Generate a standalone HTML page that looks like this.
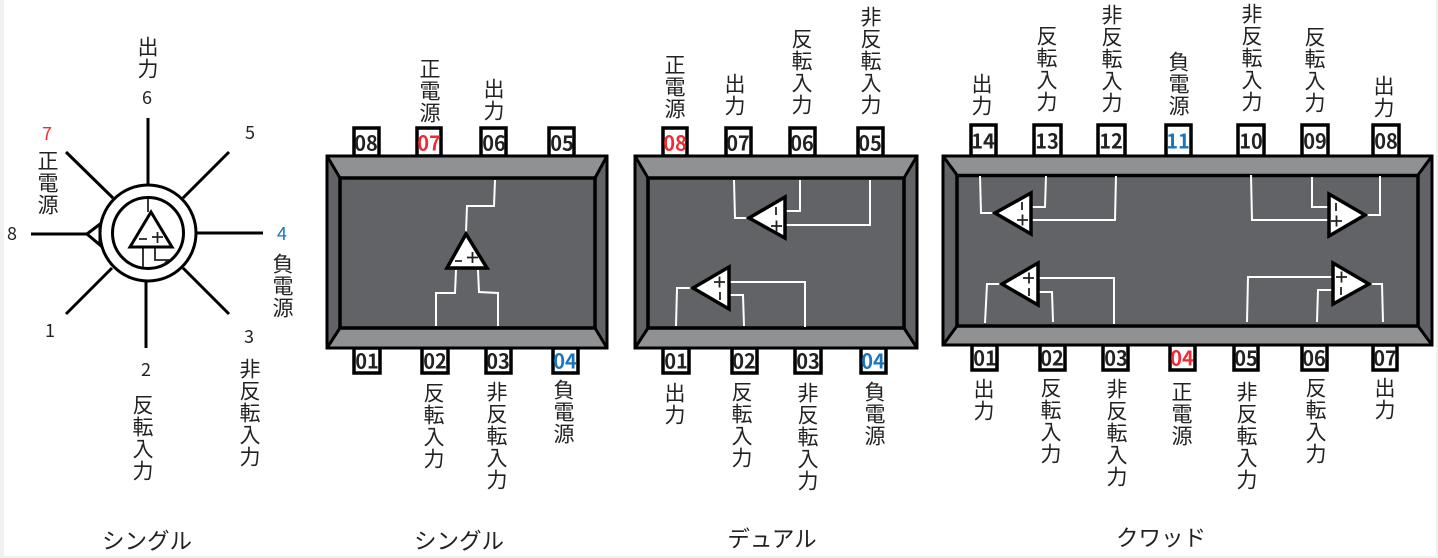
<!DOCTYPE html>
<html lang="ja"><head><meta charset="utf-8"><style>
html,body{margin:0;padding:0;background:#fff}
svg{display:block}
text{font-family:"Liberation Sans","Noto Sans CJK JP",sans-serif;fill:#222}
.v{font-family:"Noto Sans CJK JP",sans-serif;font-size:21px;letter-spacing:1px;writing-mode:vertical-rl;text-orientation:upright}
.n{font-family:"Noto Sans CJK JP",sans-serif;font-size:18px;text-anchor:middle;dominant-baseline:central}
.c{font-family:"Noto Sans CJK JP",sans-serif;font-size:22.500px;text-anchor:middle}
.p{font-family:"Noto Sans CJK JP",sans-serif;font-size:20px;font-weight:700;text-anchor:middle;dominant-baseline:central}
.pin{fill:#fff;stroke:#000;stroke-width:3.500}
.w{fill:none;stroke:#fff;stroke-width:2}
.t{fill:#fff;stroke:#000;stroke-width:3.500}
.b{stroke:#000;stroke-width:3;fill:none}
.s{stroke:#222;stroke-width:1.800;fill:none}
</style></head><body>
<svg width="1438" height="558" viewBox="0 0 1438 558" xmlns="http://www.w3.org/2000/svg">
<rect x="0" y="0" width="4" height="558" fill="#f0f0f0"/><rect x="1436" y="0" width="2" height="558" fill="#f0f0f0"/><rect x="0" y="556" width="1438" height="2" fill="#f0f0f0"/>

<!-- round package -->
<g class="b" stroke-width="3">
<path d="M148 118V185M229 152L183 198M66 152L113 198M31 234H87M197 233H263M66 314L112 268M229 314L183 268M146 281V348"/>
<path d="M87 234L100 224V245Z" fill="#fff"/>
<circle cx="148" cy="233" r="48"/><circle cx="148" cy="233" r="35.500"/>
</g>
<path d="M148 199V212M143 247V267M155 247V260H168L164 264" class="s" stroke="#444"/>
<path d="M151 212L130 247H172Z" fill="#fff" stroke="#000" stroke-width="3"/>
<path d="M139 239H147M152 237H163M157.500 232V243" class="s"/>
<text class="n" x="147" y="97">6</text><text class="n" x="47" y="133" style="fill:#ee2b36">7</text><text class="n" x="250" y="132">5</text><text class="n" x="12" y="233">8</text><text class="n" x="282" y="233" style="fill:#1a75bc">4</text><text class="n" x="50" y="330">1</text><text class="n" x="249" y="336">3</text><text class="n" x="146" y="369">2</text>
<text class="v" x="148" y="36">出力</text><text class="v" x="48" y="150">正電源</text><text class="v" x="283" y="253">負電源</text><text class="v" x="143" y="394">反転入力</text><text class="v" x="250" y="358">非反転入力</text>

<!-- chip 1 -->
<g id="c1">
<rect x="354" y="128" width="25" height="28" class="pin"/><rect x="417" y="128" width="24" height="28" class="pin"/><rect x="481" y="128" width="25" height="28" class="pin"/><rect x="549" y="128" width="25" height="28" class="pin"/>
<rect x="354" y="348" width="26" height="25" class="pin"/><rect x="422" y="348" width="26" height="25" class="pin"/><rect x="486" y="348" width="25" height="25" class="pin"/><rect x="553" y="348" width="25" height="25" class="pin"/>
<rect x="327" y="156" width="280" height="192" fill="#626366"/>
<path d="M327 156H607L595 178H340ZM327 348H607L595 328H340Z" fill="#909193"/>
<rect x="327" y="156" width="280" height="192" class="b"/><rect x="340" y="178" width="255" height="150" fill="#626366" stroke="#000" stroke-width="3.500"/>
<path d="M327 156L340 178M607 156L595 178M327 348L340 328M607 348L595 328" class="b"/>
<path class="w" d="M495 180L494 206H467L466 232M456 270L455 293H436V326M478 270L479 292L498 293V326"/>
<path class="t" d="M466 234L447 268H487Z"/>
<path class="s" d="M455 261H462M467 257.500H478M472.500 252V263"/>
</g>
<text class="p" x="366" y="142">08</text><text class="p" x="429" y="142" style="fill:#ee2b36">07</text><text class="p" x="494" y="142">06</text><text class="p" x="562" y="142">05</text>
<text class="p" x="367" y="360">01</text><text class="p" x="435" y="360">02</text><text class="p" x="498" y="360">03</text><text class="p" x="565" y="360" style="fill:#1a75bc">04</text>
<text class="v" x="430" y="58">正電源</text><text class="v" x="494" y="78">出力</text>
<text class="v" x="434" y="382">反転入力</text><text class="v" x="497" y="381">非反転入力</text><text class="v" x="564" y="379">負電源</text>

<!-- chip 2 -->
<rect x="663" y="128" width="24" height="28" class="pin"/><rect x="726" y="128" width="25" height="28" class="pin"/><rect x="790" y="128" width="25" height="28" class="pin"/><rect x="858" y="128" width="25" height="28" class="pin"/>
<rect x="663" y="348" width="26" height="25" class="pin"/><rect x="732" y="348" width="25" height="25" class="pin"/><rect x="795" y="348" width="26" height="25" class="pin"/><rect x="861" y="348" width="25" height="25" class="pin"/>
<rect x="635" y="156" width="282" height="192" fill="#626366"/>
<path d="M635 156H917L904 178H648ZM635 348H917L904 328H648Z" fill="#909193"/>
<rect x="635" y="156" width="282" height="192" class="b"/><rect x="648" y="178" width="256" height="150" fill="#626366" stroke="#000" stroke-width="3.500"/>
<path d="M635 156L648 178M917 156L904 178M635 348L648 328M917 348L904 328" class="b"/>
<path class="w" d="M734 180L735 218H749M800 180V211H785M870 180V225H785M676 326L677 288H693M744 326L743 295H729M805 327V282H729"/>
<path class="t" d="M749 218L785 197V238Z"/><path class="t" d="M693 288L729 267V309Z"/>
<path class="s" d="M776 207V215M771 226H782M776.500 220.500V231.500M714 282H725M719.500 276.500V287.500M720 292V300"/>
<text class="p" x="675" y="142" style="fill:#ee2b36">08</text><text class="p" x="738" y="142">07</text><text class="p" x="802" y="142">06</text><text class="p" x="870" y="142">05</text>
<text class="p" x="676" y="360">01</text><text class="p" x="744" y="360">02</text><text class="p" x="808" y="360">03</text><text class="p" x="873" y="360" style="fill:#1a75bc">04</text>
<text class="v" x="675" y="54">正電源</text><text class="v" x="735" y="73">出力</text><text class="v" x="802" y="28">反転入力</text><text class="v" x="871" y="6">非反転入力</text>
<text class="v" x="675" y="382">出力</text><text class="v" x="742" y="381">反転入力</text><text class="v" x="808" y="382">非反転入力</text><text class="v" x="875" y="381">負電源</text>

<!-- chip 3 -->
<rect x="971" y="125" width="25" height="31" class="pin"/><rect x="1034" y="125" width="27" height="31" class="pin"/><rect x="1098" y="125" width="27" height="31" class="pin"/><rect x="1166" y="125" width="25" height="31" class="pin"/><rect x="1238" y="125" width="26" height="31" class="pin"/><rect x="1302" y="125" width="26" height="31" class="pin"/><rect x="1373" y="125" width="26" height="31" class="pin"/>
<rect x="972" y="345" width="25" height="25" class="pin"/><rect x="1040" y="345" width="25" height="25" class="pin"/><rect x="1103" y="345" width="25" height="25" class="pin"/><rect x="1170" y="345" width="25" height="25" class="pin"/><rect x="1234" y="345" width="24" height="25" class="pin"/><rect x="1302" y="345" width="25" height="25" class="pin"/><rect x="1373" y="345" width="24" height="25" class="pin"/>
<rect x="943" y="156" width="489" height="189" fill="#626366"/>
<path d="M943 156H1432L1418 175H957ZM943 345H1432L1418 326H957Z" fill="#909193"/>
<rect x="943" y="156" width="489" height="189" class="b"/><rect x="957" y="175.500" width="461" height="150.500" fill="#626366" stroke="#000" stroke-width="3.500"/>
<path d="M943 156L957 175M1432 156L1418 175M943 345L957 326M1432 345L1418 326" class="b"/>
<path class="w" d="M980 176L981 213H995M1046 176L1045 207H1031M1116 176L1115 220H1031M985 323L987 284H1002M1053 322L1052 292H1038M1114 324V278H1038M1251 175L1252 220H1328M1312 177V207H1328M1380 176V215H1365M1247 322L1248 277H1332M1317 322L1318 290H1332M1369 284H1382L1383 322"/>
<path class="t" d="M995 213L1031 193V234Z"/><path class="t" d="M1002 284L1038 263V305Z"/><path class="t" d="M1365 215L1329 194V236Z"/><path class="t" d="M1369 284L1333 263V304Z"/>
<path class="s" d="M1022 202V210M1017 220H1028M1022.500 214.500V225.500M1023 278H1034M1029 272.500V283.500M1029 288V296M1336 203V211M1331 221H1342M1336.500 215.500V226.500M1336 277H1347M1341.500 271.500V282.500M1341 287V295"/>
<text class="p" x="983" y="140">14</text><text class="p" x="1047" y="140">13</text><text class="p" x="1111" y="140">12</text><text class="p" x="1178" y="140" style="fill:#1a75bc">11</text><text class="p" x="1251" y="140">10</text><text class="p" x="1315" y="140">09</text><text class="p" x="1386" y="140">08</text>
<text class="p" x="985" y="357">01</text><text class="p" x="1052" y="357">02</text><text class="p" x="1116" y="357">03</text><text class="p" x="1182" y="357" style="fill:#ee2b36">04</text><text class="p" x="1246" y="357">05</text><text class="p" x="1314" y="357">06</text><text class="p" x="1385" y="357">07</text>
<text class="v" x="982" y="73">出力</text><text class="v" x="1047" y="25">反転入力</text><text class="v" x="1112" y="4">非反転入力</text><text class="v" x="1179" y="51">負電源</text><text class="v" x="1252" y="3">非反転入力</text><text class="v" x="1315" y="26">反転入力</text><text class="v" x="1384" y="75">出力</text>
<text class="v" x="984" y="378">出力</text><text class="v" x="1051" y="377">反転入力</text><text class="v" x="1117" y="378">非反転入力</text><text class="v" x="1182" y="381">正電源</text><text class="v" x="1247" y="381">非反転入力</text><text class="v" x="1316" y="377">反転入力</text><text class="v" x="1385" y="377">出力</text>

<text class="c" x="147" y="549">シングル</text><text class="c" x="459" y="549">シングル</text><text class="c" x="772" y="547">デュアル</text><text class="c" x="1161" y="546">クワッド</text>
</svg>
</body></html>
